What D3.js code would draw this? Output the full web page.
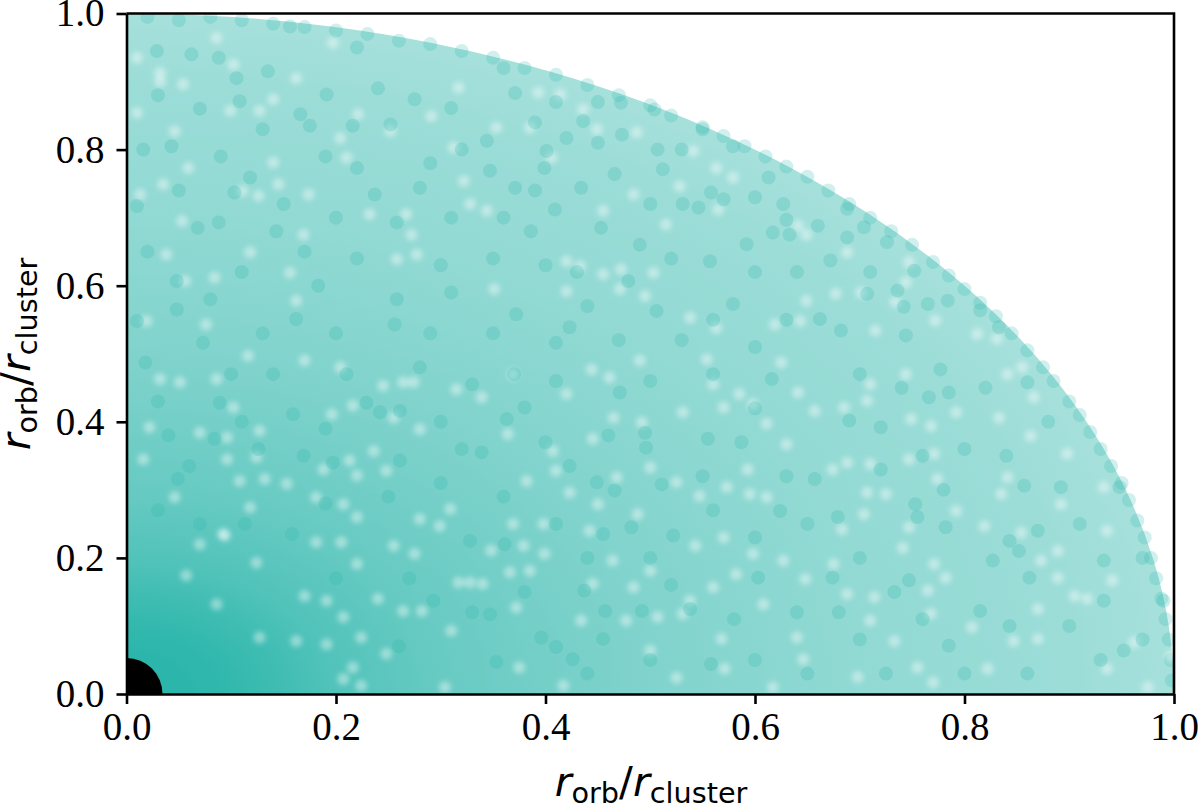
<!DOCTYPE html>
<html><head><meta charset="utf-8">
<script src="https://cdn.jsdelivr.net/npm/d3@7"></script>
<style>html,body{margin:0;background:#fff}svg{display:block}</style></head><body>
<svg id="c" width="1200" height="803"></svg>
<script>
// The reference holds thousands of overlapping dots that cannot be read one by one.
// Below: radial density estimated from its colour, plus clumps, gaps and rim dots estimated by eye.
// These marks approximate the field; they do not correspond one-to-one with real data points.
const xTicks = [0, 0.2, 0.4, 0.6, 0.8, 1.0];
const yTicks = [0, 0.2, 0.4, 0.6, 0.8, 1.0];
const densityRadius  = [0, 0.06, 0.1, 0.15, 0.2, 0.3, 0.4, 0.5, 0.7, 0.9, 1.0];
const densityOpacity = [1, 1, 0.97, 0.9, 0.82, 0.72, 0.66, 0.6, 0.52, 0.47, 0.42];
const centralMass = [[0, 0]];
const clumps = [
[.275,.874],[.016,.80],[.043,.805],[.108,.871],[.135,.915],[.01,.717],[.088,.693],[.048,.565],[.073,.516],[.183,.60],[.258,.58],[.103,.737],[.216,.835],[.118,.759],[.029,.945],[.062,.94],[.156,.981],[.22,.95],[.068,.685],[.01,.548],[.162,.551],[.256,.543],[.237,.734],[.22,.773],[.28,.744],[.175,.835],[.143,.68],[.048,.607],[.258,.693],[.31,.861],
[.371,.883],[.344,.813],[.42,.817],[.45,.81],[.473,.822],[.409,.712],[.386,.68],[.453,.685],[.434,.744],[.466,.764],[.504,.859],[.436,.842],[.472,.869],[.558,.737],[.57,.727],[.617,.678],[.633,.675],[.63,.697],[.531,.72],[.546,.715],[.479,.607],[.372,.558],[.41,.516],[.423,.539],[.506,.563],[.592,.661],[.557,.636],[.579,.573],[.66,.688],[.55,.83],[.579,.805],[.507,.80],[.401,.798],[.347,.769],[.371,.744],[.399,.773],[.512,.771],[.613,.759],[.627,.72],[.662,.551],
[.688,.713],[.704,.686],[.688,.671],[.71,.62],[.744,.527],[.784,.578],[.815,.564],[.742,.569],[.765,.573],[.682,.534],[.833,.539],[.672,.637],[.726,.664],[.752,.622],[.736,.593],[.707,.588],
[.018,.487],[.159,.411],[.049,.316],[.06,.335],[.084,.375],[.089,.428],[.169,.35],[.242,.414],[.261,.416],[.261,.343],[.126,.36],[.113,.25],[.158,.235],[.328,.225],[.293,.137],[.197,.34],[.33,.455],[.229,.428],
[.339,.355],[.423,.335],[.449,.311],[.466,.299],[.496,.362],[.495,.384],[.511,.308],[.555,.375],[.587,.37],[.624,.269],[.603,.171],[.437,.152],[.457,.122],[.492,.122],[.347,.117],[.396,.083],[.41,.069],[.426,.051],[.455,.081],[.558,.044],[.538,.125],[.657,.316],[.471,.443],[.616,.463],[.38,.421],[.363,.404],[.455,.235],[.361,.22],[.353,.047],[.522,.233],[.482,.245],
[.86,.458],[.785,.443],[.72,.392],[.753,.279],[.782,.245],[.843,.225],[.852,.21],[.892,.304],[.857,.306],[.952,.064],[.785,.071],[.725,.03],[.843,.1],[.815,.122],[.733,.15],[.679,.26],[.674,.171],[.827,.196],[.862,.171],[.933,.137],[.777,.477],[.69,.402],[.755,.26],[.747,.167],[.99,.137],[.948,.304],[.933,.196],[.766,.436],
[.088,.935],[.105,.905],[.191,.881],[.166,.852],[.252,.837],[.03,.88],[.07,.86],[.13,.83],[.19,.79],[.09,.79],[.05,.74],[.15,.72],[.2,.70],[.31,.70],[.30,.63],[.22,.64],[.11,.62],[.17,.65],[.02,.65],[.08,.58],[.13,.53],[.2,.53],[.29,.53],[.31,.59],[.24,.89],[.29,.78],[.32,.80],
[.36,.92],[.41,.87],[.39,.84],[.45,.87],[.53,.80],[.60,.73],[.36,.70],[.35,.64],[.40,.63],[.43,.62],[.49,.66],[.52,.64],[.60,.62],[.64,.62],[.56,.55],[.63,.55],[.35,.53],[.47,.52],[.53,.52],[.60,.51],[.44,.57],[.50,.72],[.39,.74],
[.03,.43],[.1,.47],[.14,.47],[.21,.47],[.28,.48],[.04,.38],[.11,.40],[.19,.39],[.3,.40],[.03,.27],[.07,.25],[.19,.28],[.25,.29],[.3,.31],[.32,.36],[.2,.17],[.27,.17],[.33,.12],[.26,.07],
[.37,.47],[.41,.46],[.5,.46],[.56,.47],[.6,.42],[.4,.37],[.46,.38],[.55,.32],[.63,.32],[.36,.29],[.41,.25],[.5,.2],[.56,.27],[.6,.23],[.65,.25],[.38,.15],[.44,.2],[.52,.16],[.58,.11],[.64,.12],[.44,.03],[.5,.05],[.6,.05],[.65,.03],
[.7,.47],[.74,.45],[.82,.45],[.88,.40],[.8,.36],[.72,.33],[.76,.35],[.84,.35],[.7,.20],[.78,.3],[.91,.25],[.97,.2],[.76,.11],[.87,.24],[.9,.1],[.93,.05],[.8,.03],[.86,.03],[.7,.08],[.97,.08],[.68,.12]
];
const gaps = [
[.116,.497],[.17,.49],[.204,.48],[.086,.463],[.051,.458],[.022,.392],[.07,.384],[.102,.421],[.196,.411],[.274,.458],[.315,.448],[.236,.357],[.248,.328],[.213,.343],[.22,.26],[.299,.247],[.205,.223],[.24,.14],[.17,.144],[.282,.122],[.224,.012],[.304,.01],[.216,.039],[.224,.083],[.132,.316],[.108,.313],[.094,.233],[.317,.164],[.275,.206],[.181,.223],
[.339,.436],[.364,.382],[.461,.465],[.465,.406],[.531,.414],[.488,.264],[.45,.279],[.423,.296],[.348,.211],[.379,.218],[.399,.206],[.641,.443],[.657,.416],[.625,.487],[.593,.33],[.63,.367],[.573,.304],[.543,.218],[.648,.169],[.434,.108],[.646,.051],[.525,.024],[.417,.012],[.507,.113],[.538,.137],[.554,.492],[.366,.179],[.385,.181],[.492,.399],
[.707,.431],[.704,.264],[.683,.242],[.747,.245],[.819,.247],[.774,.316],[.747,.345],[.792,.414],[.835,.294],[.854,.237],[.87,.125],[.905,.144],[.917,.14],[.782,.171],[.822,.037],[.755,.039],[.77,.017],[.863,.379],[.855,.48],[.933,.304],[.873,.196],[.962,.076],[.87,.081],[.714,.142],
[.032,.913],[.032,.9],[.054,.896],[.086,.964],[.102,.925],[.162,.905],[.14,.874],[.127,.857],[.099,.857],[.046,.827],[.059,.773],[.035,.749],[.013,.734],[.14,.781],[.111,.739],[.145,.749],[.126,.732],[.174,.734],[.21,.788],[.204,.817],[.232,.705],[.267,.705],[.272,.675],[.258,.639],[.277,.646],[.169,.675],[.156,.619],[.118,.649],[.084,.612],[.053,.695],[.038,.646],[.056,.607],[.076,.543],[.019,.548],[.162,.578],[.317,.891],[.312,.803],[.328,.72],[.322,.754],[.197,.957],[.221,.852],[.291,.849],[.01,.854],[.01,.935],[.252,.827],
[.393,.884],[.436,.859],[.406,.788],[.449,.83],[.487,.825],[.528,.746],[.484,.734],[.344,.71],[.455,.71],[.515,.69],[.565,.712],[.563,.773],[.579,.759],[.641,.688],[.649,.675],[.42,.636],[.433,.629],[.455,.617],[.472,.624],[.503,.619],[.351,.595],[.471,.595],[.495,.585],[.42,.592],[.649,.578],[.643,.548],[.538,.553],[.563,.538],[.353,.832],[.385,.832],[.414,.881],[.619,.543],[.541,.798],
[.747,.635],[.701,.59],[.734,.576],[.744,.605],[.772,.549],[.715,.534],[.812,.529],[.831,.522],[.688,.649],[.677,.588],
[.032,.463],[.245,.453],[.264,.458],[.216,.424],[.255,.406],[.28,.389],[.127,.387],[.096,.377],[.016,.345],[.096,.345],[.124,.348],[.188,.33],[.22,.321],[.153,.309],[.046,.289],[.118,.274],[.181,.289],[.207,.279],[.28,.257],[.309,.272],[.092,.235],[.07,.22],[.255,.218],[.22,.191],[.057,.174],[.124,.193],[.086,.132],[.191,.137],[.207,.113],[.162,.078],[.127,.083],[.191,.073],[.248,.059],[.31,.093],[.207,.022],[.264,.122],[.328,.164],
[.369,.47],[.42,.441],[.444,.477],[.49,.49],[.56,.455],[.585,.441],[.57,.421],[.598,.426],[.611,.397],[.445,.375],[.407,.357],[.382,.313],[.41,.328],[.468,.318],[.5,.333],[.525,.311],[.547,.291],[.595,.294],[.611,.289],[.369,.25],[.398,.25],[.442,.24],[.57,.23],[.598,.206],[.627,.196],[.582,.176],[.56,.157],[.484,.157],[.445,.162],[.5,.181],[.464,.196],[.372,.127],[.531,.118],[.477,.108],[.568,.081],[.5,.064],[.375,.039],[.571,.037],[.617,.01],[.64,.083],[.608,.132],[.34,.162],
[.685,.421],[.71,.455],[.744,.47],[.749,.404],[.768,.394],[.833,.406],[.841,.47],[.866,.436],[.898,.353],[.771,.353],[.688,.34],[.71,.338],[.674,.33],[.707,.296],[.725,.294],[.792,.269],[.841,.318],[.892,.279],[.889,.21],[.936,.24],[.941,.167],[.889,.171],[.765,.152],[.741,.215],[.675,.191],[.771,.191],[.688,.147],[.71,.108],[.768,.118],[.807,.098],[.847,.078],[.997,.056],[.936,.037],[.975,.01],[.733,.078],[.698,.025]
];
const rimDots = [
[.02,.995],[.05,.99],[.08,.995],[.11,.99],[.14,.985],[.17,.98],[.2,.975],[.23,.97],[.26,.96],[.29,.955],[.32,.945],[.35,.935],[.38,.92],[.41,.91],[.44,.895],[.47,.88],[.5,.865],[.52,.85],[.55,.833],[.57,.82],[.59,.805],[.61,.79],[.63,.775],[.65,.76],[.67,.74],[.69,.72],[.71,.70],[.73,.68],[.75,.66],[.77,.635],[.785,.615],[.80,.595],[.815,.575],[.83,.555],[.845,.53],[.86,.505],[.875,.48],[.885,.46],[.90,.43],[.91,.41],[.92,.385],[.93,.36],[.94,.335],[.95,.31],[.957,.285],[.965,.255],[.972,.23],[.978,.2],[.983,.17],[.988,.14],[.992,.11],[.995,.08],[.997,.05],[.998,.02]
];
const teal = "#2cb6ab";
const margin = {left:126.5, right:1174, top:13.5, bottom:694};
const x = d3.scaleLinear().domain([0,1]).range([margin.left, margin.right]);
const y = d3.scaleLinear().domain([0,1]).range([margin.bottom, margin.top]);
const svg = d3.select("#c");
const defs = svg.append("defs");
defs.append("clipPath").attr("id","plot").append("rect")
  .attr("x",x(0)).attr("y",y(1)).attr("width",x(1)-x(0)).attr("height",y(0)-y(1));
const rMax = d3.max(densityRadius);
const grad = defs.append("radialGradient").attr("id","density");
grad.selectAll("stop").data(densityRadius).join("stop")
  .attr("offset",d=>d/rMax).attr("stop-color",teal).attr("stop-opacity",(d,i)=>densityOpacity[i]);
defs.append("filter").attr("id","soft").attr("x","-5%").attr("y","-5%").attr("width","110%").attr("height","110%")
  .append("feGaussianBlur").attr("stdDeviation",2.6);
const g = svg.append("g").attr("clip-path","url(#plot)");
g.append("ellipse").attr("cx",x(0)).attr("cy",y(0))
  .attr("rx",x(rMax)-x(0)).attr("ry",y(0)-y(rMax)).attr("fill","url(#density)");
const dots=(data,r,fill,op)=>g.append("g").selectAll("circle").data(data).join("circle")
  .attr("cx",d=>x(d[0])).attr("cy",d=>y(d[1])).attr("r",r).attr("fill",fill).attr("fill-opacity",op);
dots(rimDots,7,teal,0.22);
const gapLayer = g.append("g").attr("filter","url(#soft)");
gapLayer.selectAll("circle").data(gaps).join("circle")
  .attr("cx",d=>x(d[0])).attr("cy",d=>y(d[1])).attr("r",6).attr("fill","#fff").attr("fill-opacity",0.4);
dots(clumps,7,teal,0.24);
dots(centralMass,36,"#000",1);

const font='"Liberation Serif","Times New Roman",serif';
const style=(a)=>{a.selectAll("path,line").attr("stroke","#000").attr("stroke-width",2.6);
  a.selectAll("text").attr("font-family",font).attr("font-size",39).attr("fill","#000");};
const ax=svg.append("g").attr("transform",`translate(0,${y(0)})`)
  .call(d3.axisBottom(x).tickValues(xTicks).tickFormat(d3.format(".1f")).tickSize(10).tickSizeOuter(0).tickPadding(8));
style(ax);
const ay=svg.append("g").attr("transform",`translate(${x(0)},0)`)
  .call(d3.axisLeft(y).tickValues(yTicks).tickFormat(d3.format(".1f")).tickSize(10).tickSizeOuter(0).tickPadding(12));
style(ay);
svg.append("path").attr("d",`M${x(0)},${y(1)}H${x(1)}V${y(0)}`).attr("fill","none").attr("stroke","#000").attr("stroke-width",2.6);

function label(sel){
  sel.attr("font-family","'DejaVu Sans'").attr("font-size",41).attr("fill","#000").attr("text-anchor","middle");
  sel.append("tspan").attr("font-style","italic").text("r");
  sel.append("tspan").attr("font-size",28.7).attr("dy",7).text("orb");
  sel.append("tspan").attr("dy",-7).text("/");
  sel.append("tspan").attr("font-style","italic").text("r");
  sel.append("tspan").attr("font-size",28.7).attr("dy",7).text("cluster");
}
svg.append("text").attr("x",651).attr("y",796).call(label);
svg.append("text").attr("transform","translate(30,354) rotate(-90)").call(label);
</script></body></html>
